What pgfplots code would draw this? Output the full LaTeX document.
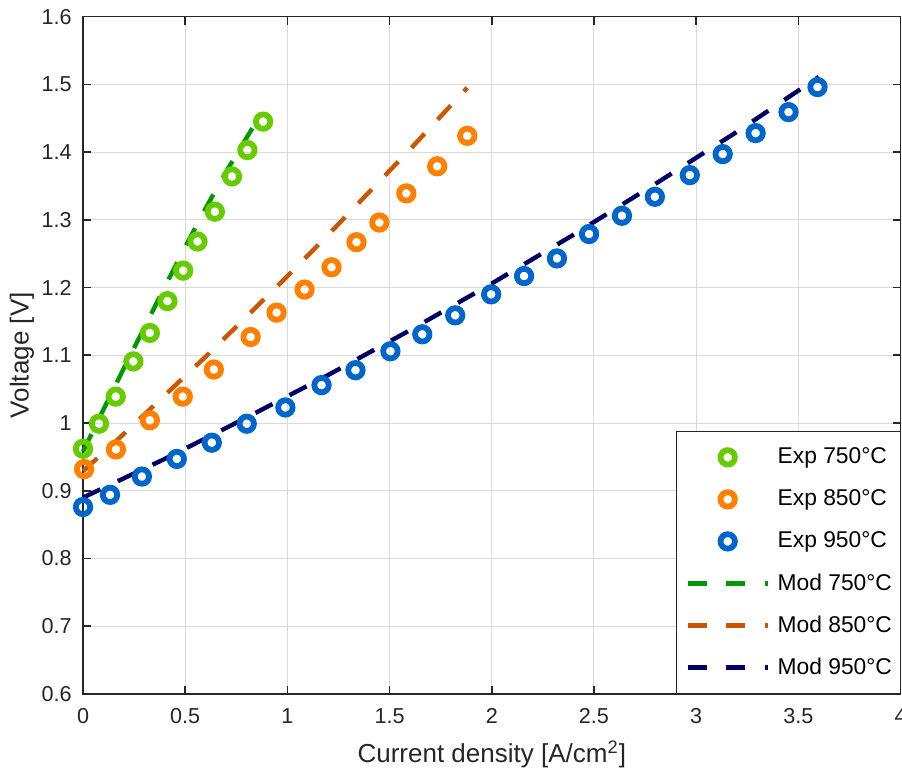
\documentclass[border=0pt]{standalone}
\usepackage{fontspec}
\setmainfont{Liberation Sans}
\usepackage{pgfplots}
\pgfplotsset{compat=1.18}
\usetikzlibrary{calc}
\definecolor{expgreen}{HTML}{66CC00}
\definecolor{modgreen}{HTML}{009900}
\definecolor{exporange}{HTML}{FF8000}
\definecolor{modorange}{HTML}{CC5500}
\definecolor{expblue}{HTML}{0066CC}
\definecolor{modblue}{HTML}{000066}
\definecolor{axgray}{HTML}{262626}

\pgfplotsset{
  expmark/.style={only marks, mark=o, mark size=3.6pt, line width=2.9pt, color=#1,
    legend image code/.code={\path (0pt,0pt) (40pt,0pt);
      \draw[mark repeat=1,mark phase=1,##1] plot coordinates {(20pt,0pt)};}},
  modline/.style={no marks, line width=2.2pt, color=#1, line cap=butt,
    dash pattern=on 9.6pt off 9.6pt,
    legend image code/.code={\draw[##1] (0pt,0pt) -- (40pt,0pt);}},
}

\begin{document}
\begin{tikzpicture}
\begin{axis}[name=ax,
  scale only axis, width=408.5pt, height=338.5pt,
  xmin=0, xmax=4, ymin=0.6, ymax=1.6,
  xtick={0,0.5,1,1.5,2,2.5,3,3.5,4},
  ytick={0.6,0.7,0.8,0.9,1,1.1,1.2,1.3,1.4,1.5,1.6},
  tick align=inside, major tick length=4pt,
  grid=major, grid style={line width=0.5pt, black!15},
  axis line style={line width=0.8pt, axgray},
  every tick/.style={line width=0.8pt, axgray},
  clip=false,
  /pgf/number format/assume math mode=true,
  ticklabel style={font=\fontsize{10.8}{12}\selectfont, text=axgray, inner sep=0pt},
  xticklabel style={yshift=-7pt},
  yticklabel style={xshift=-5.5pt},
  xlabel={Current density [A/cm\textsuperscript{2}]},
  ylabel={Voltage [V]},
  label style={font=\fontsize{13}{15}\selectfont, text=axgray, inner sep=0pt},
  xlabel style={at={(axis description cs:0.5,-0.1006)}, anchor=base},
  ylabel style={at={(axis description cs:-0.0667,0.5)}, anchor=base},
  legend cell align=left,
  legend style={at={(1,0)}, anchor=south east, draw=axgray, line width=0.5pt,
    fill=white, font=\fontsize{11.4}{13}\selectfont,
    inner xsep=4pt, inner ysep=2.5pt, row sep=0pt,
    nodes={inner sep=0pt, minimum height=21pt},
    /tikz/every odd column/.style={column sep=3.5pt}},
]
% experimental points
\addplot+[expmark=expgreen] coordinates {
  (0,0.962) (0.078,0.999) (0.160,1.039) (0.246,1.091) (0.327,1.133) (0.413,1.180)
  (0.490,1.225) (0.560,1.268) (0.645,1.312) (0.729,1.364) (0.804,1.403) (0.881,1.445)
};
\addlegendentry{Exp 750°C}
\addplot+[expmark=exporange] coordinates {
  (0.005,0.932) (0.161,0.961) (0.327,1.004) (0.488,1.039) (0.640,1.079) (0.820,1.127)
  (0.947,1.163) (1.084,1.197) (1.216,1.230) (1.338,1.267) (1.450,1.296) (1.582,1.339)
  (1.733,1.379) (1.880,1.424)
};
\addlegendentry{Exp 850°C}
\addplot+[expmark=expblue] coordinates {
  (0,0.876) (0.132,0.894) (0.288,0.921) (0.459,0.947) (0.630,0.971) (0.801,0.999)
  (0.990,1.023) (1.167,1.056) (1.333,1.078) (1.504,1.106) (1.660,1.131) (1.821,1.159)
  (1.997,1.190) (2.158,1.217) (2.319,1.243) (2.476,1.279) (2.637,1.306) (2.798,1.334)
  (2.969,1.366) (3.130,1.397) (3.291,1.428) (3.452,1.459) (3.594,1.496)
};
\addlegendentry{Exp 950°C}
% model curves
\addplot+[modline=modgreen] coordinates {
  (0,0.958) (0.1,1.020) (0.2,1.081) (0.3,1.141) (0.4,1.201) (0.5,1.260)
  (0.6,1.317) (0.7,1.371) (0.8,1.421) (0.83,1.436)
};
\addlegendentry{Mod 750°C}
\addplot+[modline=modorange] coordinates {
  (0,0.929) (0.2,0.984) (0.4,1.041) (0.6,1.098) (0.8,1.157) (1.0,1.217)
  (1.2,1.278) (1.4,1.341) (1.6,1.404) (1.88,1.495)
};
\addlegendentry{Mod 850°C}
\addplot+[modline=modblue] coordinates {
  (0,0.890) (0.4,0.947) (0.8,1.008) (1.2,1.071) (1.6,1.137) (2.0,1.206)
  (2.4,1.278) (2.8,1.353) (3.2,1.430) (3.6,1.511)
};
\addlegendentry{Mod 950°C}
\end{axis}
\pgfresetboundingbox
\path[use as bounding box] ($(ax.south west)+(-41.5pt,-38.5pt)$) rectangle ($(ax.north east)+(0.75pt,8.3pt)$);
\end{tikzpicture}
\end{document}
